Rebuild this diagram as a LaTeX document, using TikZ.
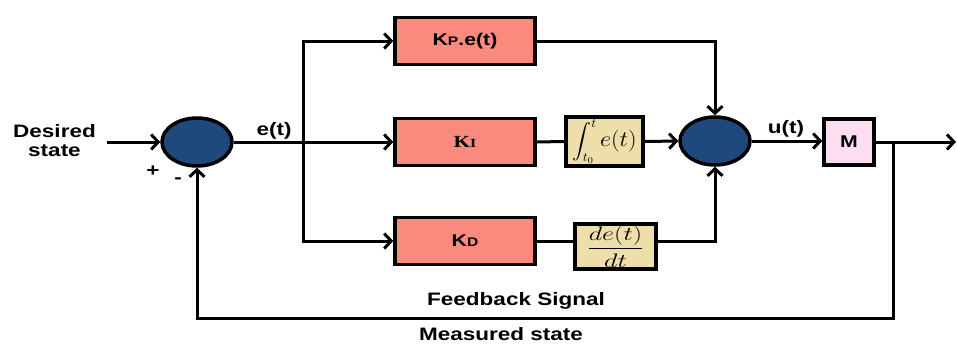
\RequirePackage{fix-cm}
\documentclass[tikz,border=0pt]{standalone}
\usepackage{exscale}
\usepackage{amsmath}
\usepackage{fontspec}
\usepackage{graphicx}
\setmainfont{Liberation Sans}
\newfontfamily\gainserif{Liberation Serif}
\usetikzlibrary{arrows.meta,shapes.geometric}
\definecolor{gainfill}{RGB}{250,138,125}
\definecolor{sumfill}{RGB}{31,73,125}
\definecolor{opfill}{RGB}{238,223,170}
\definecolor{plantfill}{RGB}{252,222,240}
% text in this diagram is set slightly wide
\newcommand\widetext[2][1.25]{\scalebox{#1}[1]{#2}}
\newcommand\subcap[1]{{\fontsize{12.5}{13}\selectfont #1}}
\begin{document}
\begin{tikzpicture}[x=1pt,y=-1pt,
  every node/.style={font=\fontsize{17}{19}\selectfont\bfseries},
  gain/.style={draw, line width=3.5pt, fill=gainfill, minimum width=140pt, minimum height=47pt, inner sep=0pt},
  sumjn/.style={ellipse, draw, line width=3.5pt, fill=sumfill, minimum width=70pt, minimum height=48pt, inner sep=0pt},
  opbox/.style={draw, line width=3.5pt, fill=opfill, inner sep=0pt, font=\fontsize{18}{20}\selectfont},
  plant/.style={draw, line width=3.5pt, fill=plantfill, minimum width=50pt, minimum height=46pt, inner sep=0pt},
  wire/.style={line width=3pt},
  arr/.style={line width=3pt, -{Straight Barb[length=7pt,width=15pt,line width=3pt]}},
  lbl/.style={inner sep=0pt, xscale=1.25, font=\fontsize{18}{19}\selectfont\bfseries}]
\useasboundingbox (0,0) rectangle (957,343);

% summing junctions
\node[sumjn] (s1) at (197,142) {};
\node[sumjn] (s2) at (715,141) {};

% gain blocks
\node[gain] (kp) at (465,41) {\widetext{K\subcap{P}.e(t)}};
\node[gain] (ki) at (465,142) {\widetext{\gainserif K\subcap{I}}};
\node[gain] (kd) at (465,241) {\widetext{K\subcap{D}}};

% integral and derivative operators
\node[opbox, minimum width=77pt, minimum height=49pt] (int) at (604.5,141.5)
  {\widetext[1.1]{$\displaystyle\int_{t_0}^{t}$\,{\fontsize{22}{24}\selectfont$e(t)$}}};
\node[opbox, minimum width=81pt, minimum height=45pt, font=\fontsize{19.5}{21}\selectfont] (der) at (615.5,246.5)
  {\widetext[1.35]{$\displaystyle\frac{de(t)}{dt}$}};

% plant
\node[plant] (m) at (849,142) {\widetext{M}};

% free ends and junction points
\coordinate (in) at (107,142);
\coordinate (br) at (303,142);
\coordinate (tap) at (893,142);
\coordinate (fbr) at (893,318);
\coordinate (out) at (956,142);

% forward path
\draw[arr] (in) -- (s1.west);
\draw[wire] (s1.east) -- (br);
\draw[arr] (br) -- (ki.west);
\draw[arr] (br) |- (kp.west);
\draw[arr] (br) |- (kd.west);
\draw[wire] (ki.east) -- (int.west);
\draw[arr] (int.east) -- (s2.west);
\draw[wire] (kd.east) -- (kd.east -| der.west);
\draw[arr] (kd.east -| der.east) -| (s2.south);
\draw[arr] (kp.east) -| (s2.north);
\draw[arr] (s2.east) -- (s2.east -| m.west);
\draw[arr] (m.east) -- (out);

% feedback path
\draw[arr] (tap) -- (fbr) -| (s1.south);

% labels
\node[lbl, align=center] (desired) at (54.5,141) {Desired\\state};
\node[lbl] (plus) at (153,171) {+};
\node[lbl] (minus) at (178,181) {-};
\node[lbl, anchor=base] (et) at (274,135) {e(t)};
\node[lbl, anchor=base] (ut) at (786,133) {u(t)};
\node[lbl, anchor=base] (fbs) at (516,305) {Feedback Signal};
\node[lbl, anchor=base] (ms) at (501,340) {Measured state};
\end{tikzpicture}
\end{document}
